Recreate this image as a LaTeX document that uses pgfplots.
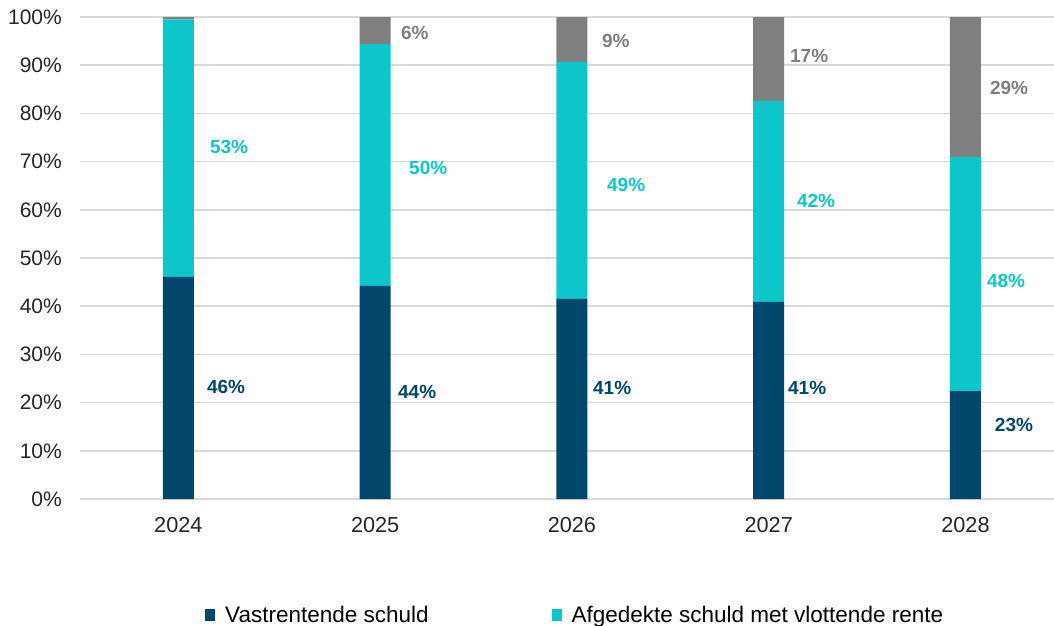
\documentclass[border=0pt]{standalone}
\usepackage{pgfplots}
\pgfplotsset{compat=1.18}
\usepackage{fontspec}
\setmainfont{Liberation Sans}
\definecolor{navy}{HTML}{00476B}
\definecolor{cyanb}{HTML}{0CC6C9}
\definecolor{grayb}{HTML}{7F7F7F}
\definecolor{gridc}{HTML}{D9D9D9}
\definecolor{tickc}{HTML}{262626}
\begin{document}
\begin{tikzpicture}
\useasboundingbox (0,0) rectangle (1054pt,-625pt);
\begin{axis}[
  at={(80pt,-499pt)}, anchor=south west,
  scale only axis, width=974pt, height=482pt,
  xmin=-0.5, xmax=4.45, ymin=0, ymax=100,
  enlargelimits=false, clip=false,
  ybar stacked, bar width=31pt,
  axis line style={draw=none},
  major tick length=0pt,
  ymajorgrids, grid style={gridc, line width=1.6pt},
  xtick={0,1,2,3,4}, xticklabels={2024,2025,2026,2027,2028},
  ytick={0,10,...,100},
  yticklabel={\pgfmathparse{int(\tick)}\pgfmathresult\%},
  tick label style={text=tickc},
  yticklabel style={anchor=east, inner sep=0pt, xshift=-18pt, font=\fontsize{21}{24}\selectfont},
  xticklabel style={anchor=north, inner sep=0pt, yshift=-18pt, font=\fontsize{21.7}{24}\selectfont},
  legend columns=2,
  legend style={at={(0.1283,-0.2407)}, anchor=west, draw=none, fill=none, inner sep=0pt,
    font=\fontsize{22.5}{26}\selectfont, text=black,
    nodes={inner sep=0pt},
    /tikz/every odd column/.append style={column sep=10pt},
    /tikz/every even column/.append style={column sep=123pt}},
]
\addplot[fill=navy, draw=none, legend image code/.code={\fill[navy] (0pt,-6pt) rectangle (10pt,6pt);}]
  coordinates {(0,46.1) (1,44.2) (2,41.5) (3,40.9) (4,22.4)};
\addplot[fill=cyanb, draw=none, legend image code/.code={\fill[cyanb] (0pt,-6pt) rectangle (10pt,6pt);}]
  coordinates {(0,53.4) (1,50.2) (2,49.2) (3,41.7) (4,48.6)};
\addplot[fill=grayb, draw=none]
  coordinates {(0,0.5) (1,5.6) (2,9.3) (3,17.4) (4,29.0)};
\legend{Vastrentende schuld, Afgedekte schuld met vlottende rente}
\end{axis}
\begin{axis}[
  at={(80pt,-499pt)}, anchor=south west,
  scale only axis, width=974pt, height=482pt,
  xmin=-0.5, xmax=4.45, ymin=0, ymax=100,
  enlargelimits=false, clip=false, hide axis,
  every node near coord/.append style={anchor=west, inner sep=0pt,
    font=\fontsize{19}{22}\selectfont\bfseries},
]
\addplot[draw=none, mark=none, nodes near coords, point meta=explicit symbolic,
  every node near coord/.append style={text=navy}]
  coordinates {(0.145,23.2) [46\%] (1.116,22.2) [44\%] (2.107,23.0) [41\%] (3.098,23.0) [41\%] (4.149,15.4) [23\%]};
\addplot[draw=none, mark=none, nodes near coords, point meta=explicit symbolic,
  every node near coord/.append style={text=cyanb}]
  coordinates {(0.160,73.0) [53\%] (1.172,68.7) [50\%] (2.178,65.1) [49\%] (3.143,61.8) [42\%] (4.109,45.2) [48\%]};
\addplot[draw=none, mark=none, nodes near coords, point meta=explicit symbolic,
  every node near coord/.append style={text=grayb}]
  coordinates {(1.131,96.7) [6\%] (2.152,95.0) [9\%] (3.108,91.9) [17\%] (4.124,85.3) [29\%]};
\end{axis}
\end{tikzpicture}
\end{document}
